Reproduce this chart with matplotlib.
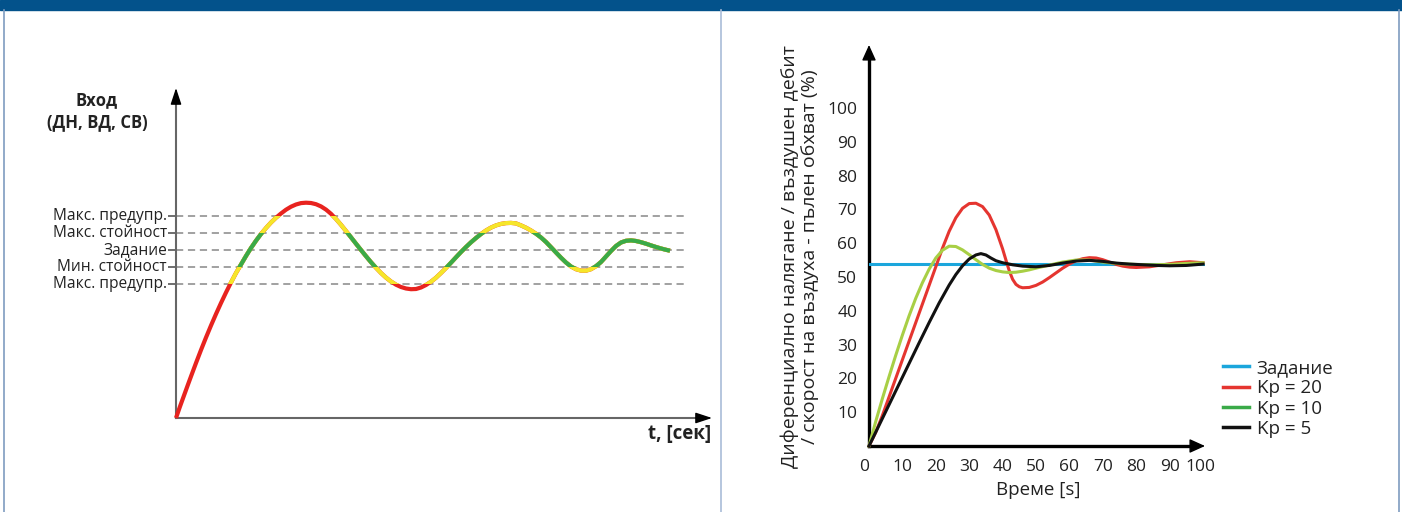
import matplotlib
matplotlib.use("Agg")
import matplotlib.pyplot as plt
import matplotlib.transforms as mtransforms
from matplotlib.patches import Rectangle
from matplotlib.lines import Line2D

plt.rcParams['font.family'] = ['Open Sans', 'DejaVu Sans']

W, H = 1402, 512

# left chart: input signal vs time (arbitrary units)
level_names = ['Макс. предупр.', 'Макс. стойност', 'Задание', 'Мин. стойност', 'Макс. предупр.']
level_vals = [202, 185, 168, 151, 134]
MAX_WARN, MAX_VAL, SETP, MIN_VAL, MIN_WARN = level_vals

sig_t = [0, 4, 8, 12, 16, 20, 25, 30, 35, 40, 45, 50, 55, 60, 65, 70, 75, 80, 85, 90,
         95, 100, 105, 110, 115, 120, 125, 130, 135, 140, 145, 150, 155, 160, 165, 170,
         175, 180, 185, 190, 195, 200, 205, 210, 215, 220, 225, 230, 235, 240, 245, 250,
         255, 260, 265, 270, 275, 280, 285, 290, 295, 300, 305, 310, 315, 320, 325, 330,
         335, 340, 345, 350, 355, 360, 365, 370, 375, 380, 385, 390, 395, 400, 405, 410,
         415, 420, 425, 430, 435, 440, 445, 450, 455, 460, 465, 470, 475, 480, 485, 490,
         494]
sig_v = [0, 11.5, 22.5, 33.5, 44.3, 55, 68, 80.5, 92.5, 104, 115, 125.5, 135.5, 145,
         153.5, 162, 170, 177.3, 184, 190, 195.5, 200.3, 204.5, 208.3, 211.3, 213.5,
         214.9, 215.3, 215.0, 213.8, 211.6, 208.4, 204.2, 199, 193.2, 187, 180.7, 174.3,
         168, 161.8, 155.8, 150.2, 145, 140.4, 136.5, 133.3, 131, 129.5, 128.8, 129,
         130.5, 133, 136.3, 140.3, 145, 150, 155.3, 160.7, 166, 171, 175.7, 180, 184,
         187.5, 190.4, 192.6, 194.1, 194.9, 195.1, 194.6, 192.6, 190.3, 187.5, 184.3,
         180.5, 176, 170.8, 165.5, 160.3, 155.5, 151.5, 148.8, 147.4, 147.3, 148.8,
         151.8, 156, 161.5, 167, 172, 175.5, 177.2, 177.6, 177, 175.8, 174.3, 172.6,
         171, 169.5, 168.2, 167.3]

# right chart: PID response
setpoint = 53.8
t_kp20 = [0, 2, 4, 6, 8, 10, 12, 14, 16, 18, 20, 22, 24, 26, 28, 30, 32, 34, 36, 38,
          40, 41, 42, 43, 44, 45, 46, 48, 50, 52, 54, 56, 58, 60, 62, 64, 66, 68, 70,
          72, 74, 76, 78, 80, 84, 88, 92, 96, 100]
v_kp20 = [0, 4, 9, 14.5, 20, 25.5, 31, 36.5, 42, 47.5, 53, 58.5, 63.5, 67.5, 70.3,
          71.7, 71.8, 70.8, 68.3, 64, 58.3, 55, 51.8, 49.3, 47.8, 47.1, 46.8, 46.9,
          47.5, 48.5, 49.8, 51.2, 52.6, 53.8, 54.8, 55.4, 55.7, 55.6, 55.1, 54.4, 53.7,
          53.2, 52.9, 52.8, 53.0, 53.6, 54.2, 54.5, 54.2]
t_kp10 = [0, 2, 4, 6, 8, 10, 12, 14, 16, 18, 20, 22, 24, 26, 28, 30, 32, 34, 36, 38,
          40, 42, 44, 46, 48, 50, 54, 58, 62, 66, 70, 75, 80, 85, 90, 95, 100]
v_kp10 = [0, 7.2, 14, 20.5, 26.8, 32.8, 38.5, 43.7, 48.3, 52.3, 55.6, 57.9, 59.1, 59.0,
          58.0, 56.6, 55.1, 53.7, 52.6, 51.9, 51.5, 51.3, 51.4, 51.7, 52.1, 52.6, 53.5,
          54.4, 55.0, 55.0, 54.4, 53.9, 53.7, 53.6, 53.7, 54.0, 54.2]
t_kp5 = [0, 3, 6, 9, 12, 15, 18, 21, 24, 26, 28, 30, 32, 33.5, 35, 36.5, 38, 40, 43,
         46, 50, 54, 58, 62, 66, 70, 74, 78, 82, 86, 90, 95, 100]
v_kp5 = [0, 6.1, 12.2, 18.3, 24.4, 30.5, 36.5, 42.3, 47.6, 50.7, 53.3, 55.3, 56.5, 56.9,
         56.5, 55.6, 54.8, 54.2, 53.6, 53.2, 53.0, 53.4, 54.1, 54.7, 54.9, 54.6, 54.1,
         53.8, 53.6, 53.4, 53.3, 53.4, 53.8]

legend_labels = ['Задание', 'Kp = 20', 'Kp = 10', 'Kp = 5']

RED, YELLOW, GREEN = '#e8231f', '#f6e62a', '#3aaa48'
TXT = '#222222'


def px_rect(x0, y0, x1, y1):
    return [x0 / W, 1 - y1 / H, (x1 - x0) / W, (y1 - y0) / H]


def head(ax, start, end, color, hl, hw):
    ax.annotate('', xy=end, xytext=start, annotation_clip=False,
                arrowprops=dict(arrowstyle='-|>,head_length=%s,head_width=%s' % (hl, hw),
                                color=color, lw=1, shrinkA=0, shrinkB=0))


fig = plt.figure(figsize=(W / 100, H / 100), dpi=100)

# frame
fig.patches.append(Rectangle((0, 1 - 10 / H), 1, 10 / H, transform=fig.transFigure,
                             color='#03528b'))
for xp, c in [(3.5, '#7f9cc0'), (720.5, '#a9bcd8'), (1398.5, '#7f9cc0')]:
    fig.add_artist(Line2D([xp / W] * 2, [0, 1 - 10 / H], transform=fig.transFigure,
                          color=c, lw=1.2))

# ---------- left chart ----------
ax1 = fig.add_axes(px_rect(176, 88, 712, 418))
ax1.set_xlim(0, 536)
ax1.set_ylim(0, 330)
ax1.axis('off')

ax1.hlines(level_vals, 0, 509, colors='#9a9a9a', linestyles=(0, (4, 2.6)), lw=1.3)
ax1.hlines(level_vals, -8, 0, colors='#555555', lw=1.2, clip_on=False)
for name, val in zip(level_names, level_vals):
    ax1.text(-9, val, name, ha='right', va='center', fontsize=11.2, color=TXT)

ax1.plot([0, 0], [0, 318], color='#666666', lw=1.5, clip_on=False)
ax1.plot([0, 524], [0, 0], color='#666666', lw=1.5, clip_on=False)
head(ax1, (0, 314), (0, 330), 'black', 1.0, 0.33)
head(ax1, (520, 0), (536, 0), 'black', 1.0, 0.33)

# colour bands: red everywhere, yellow inside warnings, green inside limits
ax1.plot(sig_t, sig_v, color=RED, lw=3, clip_on=False, solid_capstyle='butt',
         solid_joinstyle='round')
ln_y, = ax1.plot(sig_t, sig_v, color=YELLOW, lw=3, solid_capstyle='butt',
                 solid_joinstyle='round')
ln_y.set_clip_path(Rectangle((-50, MIN_WARN), 700, MAX_WARN - MIN_WARN, transform=ax1.transData))
ln_g, = ax1.plot(sig_t, sig_v, color=GREEN, lw=3, solid_capstyle='butt',
                 solid_joinstyle='round')
ln_g.set_clip_path(Rectangle((-50, MIN_VAL), 700, MAX_VAL - MIN_VAL, transform=ax1.transData))

fig.text(97 / W, 1 - 111 / H, 'Вход\n(ДН, ВД, СВ)', ha='center', va='center',
         fontsize=12, fontweight='bold', color=TXT, linespacing=1.25)
fig.text(711 / W, 1 - 434 / H, 't, [сек]', ha='right', va='center',
         fontsize=13.5, fontweight='bold', color=TXT)

# ---------- right chart ----------
ax2 = fig.add_axes(px_rect(869, 45, 1205, 446))
ax2.set_xlim(0, 100.6)
ax2.set_ylim(0, 118.6)
for s in ax2.spines.values():
    s.set_visible(False)
ax2.set_xticks(range(0, 101, 10))
ax2.set_yticks(range(10, 101, 10))
ax2.tick_params(axis='x', length=0, pad=9.5, labelsize=12.5, labelcolor=TXT)
ax2.tick_params(axis='y', length=0, pad=8.5, labelsize=12.5, labelcolor=TXT)
xlabels = ax2.get_xticklabels()
for lab, dx in [(xlabels[0], -5), (xlabels[-1], -3)]:
    lab.set_transform(lab.get_transform() +
                      mtransforms.ScaledTranslation(dx / 100, 0, fig.dpi_scale_trans))

ax2.plot([0, 0], [0, 115], color='black', lw=2.4, clip_on=False)
ax2.plot([0, 97], [0, 0], color='black', lw=2.4, clip_on=False)
head(ax2, (0, 113), (0, 118.6), 'black', 0.95, 0.43)
head(ax2, (95, 0), (100.6, 0), 'black', 0.95, 0.43)

ax2.plot([0, 100], [setpoint, setpoint], color='#1ba6dc', lw=2.2)
ax2.plot(t_kp20, v_kp20, color='#e53530', lw=2.2, clip_on=False, solid_joinstyle='round')
ax2.plot(t_kp10, v_kp10, color='#a8cf45', lw=2.2, clip_on=False, solid_joinstyle='round')
ax2.plot(t_kp5, v_kp5, color='#111111', lw=2.2, clip_on=False, solid_joinstyle='round')

fig.text(800 / W, 1 - 257 / H,
         'Диференциално налягане / въздушен дебит\n/ скорост на въздуха - пълен обхват (%)',
         rotation=90, ha='center', va='center', multialignment='center',
         fontsize=14, color=TXT, linespacing=1.15)
fig.text(1038 / W, 1 - 490 / H, 'Време [s]', ha='center', va='center',
         fontsize=13.5, color=TXT)

handles = [Line2D([], [], color=c, lw=2.5)
           for c in ['#1ba6dc', '#e53530', '#3aaa48', '#111111']]
fig.legend(handles, legend_labels, loc='upper left',
           bbox_to_anchor=(1223 / W, 1 - 359 / H), frameon=False, fontsize=13.5,
           handlelength=1.4, handletextpad=0.4, labelspacing=0.12,
           borderpad=0, borderaxespad=0, labelcolor=TXT)

fig.savefig('out.png', dpi=100)
